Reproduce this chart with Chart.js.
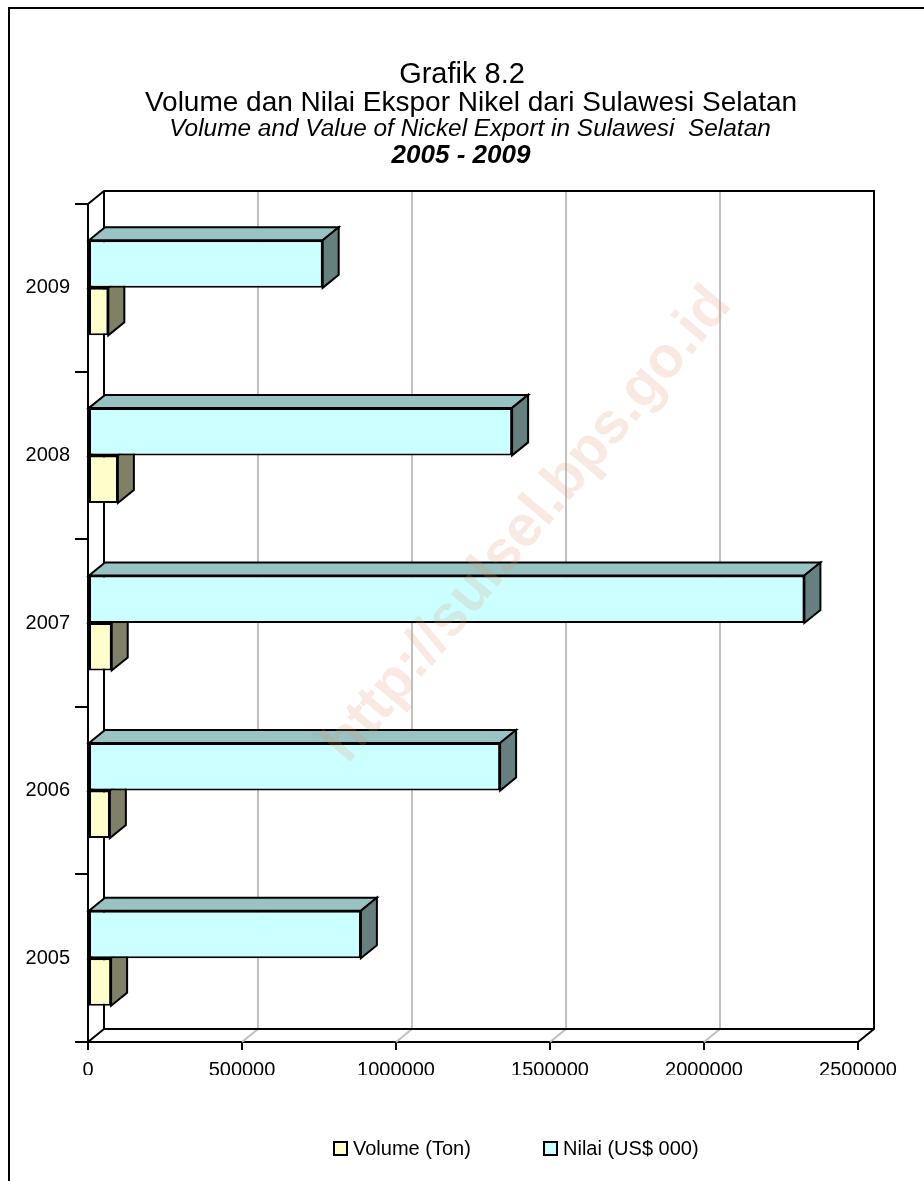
<!DOCTYPE html>
<html><head><meta charset="utf-8">
<script src="https://cdn.jsdelivr.net/npm/chart.js@4"></script>
<style>html,body{margin:0;padding:0;background:#fff;overflow:hidden}#wrap{width:924px;height:1181px;position:relative}</style>
</head><body><div id="wrap"><canvas id="c" width="924" height="1181"></canvas></div>
<script>
// ---- data ----
const years = ['2005', '2006', '2007', '2008', '2009'];
const volumeTon = [75000, 71000, 77000, 97000, 66000];
const nilaiUSD = [886000, 1338000, 2326000, 1377000, 762000];
const xTicks = [0, 500000, 1000000, 1500000, 2000000, 2500000];
const seriesNames = ['Nilai (US$ 000)', 'Volume (Ton)'];
const titleLines = [
  'Grafik 8.2',
  'Volume dan Nilai Ekspor Nikel dari Sulawesi Selatan',
  'Volume and Value of Nickel Export in Sulawesi  Selatan',
  '2005 - 2009'
];
const watermark = 'http://sulsel.bps.go.id';

// ---- style ----
const FONT = "'Liberation Sans', Arial, sans-serif";
const DX = 16, DY = -13;
const colors = {
  nilai: { front: '#CCFFFF', top: '#99C2C2', side: '#668080' },
  volume: { front: '#FFFFCC', top: '#C2C299', side: '#808066' }
};

function face(ctx, pts, fill) {
  ctx.beginPath();
  ctx.moveTo(pts[0][0], pts[0][1]);
  for (let i = 1; i < pts.length; i++) ctx.lineTo(pts[i][0], pts[i][1]);
  ctx.closePath();
  ctx.fillStyle = fill;
  ctx.fill();
  ctx.stroke();
}
function bar3D(ctx, el, c) {
  const xe = el.x, xb = el.base, t = el.y - el.height / 2, b = el.y + el.height / 2;
  face(ctx, [[xb, t], [xb + DX, t + DY], [xe + DX, t + DY], [xe, t]], c.top);
  face(ctx, [[xe, t], [xe + DX, t + DY], [xe + DX, b + DY], [xe, b]], c.side);
}

const threeD = {
  id: 'threeD',
  beforeDatasetsDraw(chart) {
    const { ctx, chartArea: a, scales: { x } } = chart;
    ctx.save();
    ctx.strokeStyle = '#C0C0C0';
    ctx.lineWidth = 2;
    xTicks.forEach((v, i) => {
      if (i === 0 || i === xTicks.length - 1) return;
      const px = x.getPixelForValue(v);
      ctx.beginPath();
      ctx.moveTo(px, a.bottom);
      ctx.lineTo(px + DX, a.bottom + DY);
      ctx.lineTo(px + DX, a.top + DY);
      ctx.stroke();
    });
    ctx.strokeStyle = '#000';
    ctx.lineWidth = 2;
    ctx.lineJoin = 'miter';
    ctx.beginPath();
    ctx.moveTo(a.left, a.top);
    ctx.lineTo(a.left + DX, a.top + DY);
    ctx.lineTo(a.right + DX, a.top + DY);
    ctx.lineTo(a.right + DX, a.bottom + DY);
    ctx.lineTo(a.right, a.bottom);
    ctx.moveTo(a.left + DX, a.top + DY);
    ctx.lineTo(a.left + DX, a.bottom + DY);
    ctx.lineTo(a.right + DX, a.bottom + DY);
    ctx.moveTo(a.left + DX, a.bottom + DY);
    ctx.lineTo(a.left, a.bottom);
    ctx.stroke();
    chart.getDatasetMeta(1).data.forEach(el => bar3D(ctx, el, colors.volume));
    ctx.restore();
  },
  afterDatasetsDraw(chart) {
    const { ctx } = chart;
    ctx.save();
    ctx.strokeStyle = '#000';
    ctx.lineWidth = 2;
    ctx.lineJoin = 'miter';
    chart.getDatasetMeta(0).data.forEach(el => bar3D(ctx, el, colors.nilai));
    // watermark
    ctx.translate(528, 525);
    ctx.rotate(-50 * Math.PI / 180);
    ctx.font = 'bold 58px ' + FONT;
    ctx.textAlign = 'center';
    ctx.textBaseline = 'middle';
    ctx.fillStyle = 'rgba(220,150,110,0.2)';
    ctx.fillText(watermark, 0, 0);
    ctx.restore();
  },
  afterDraw(chart) {
    const { ctx } = chart;
    ctx.save();
    ctx.fillStyle = '#000';
    ctx.textAlign = 'center';
    ctx.textBaseline = 'middle';
    ctx.font = '29px ' + FONT; ctx.fillText(titleLines[0], 462, 75);
    ctx.font = '28px ' + FONT; ctx.fillText(titleLines[1], 471, 103);
    ctx.font = 'italic 24.4px ' + FONT; ctx.fillText(titleLines[2], 470, 129);
    ctx.font = 'italic bold 26px ' + FONT; ctx.fillText(titleLines[3], 461, 156);
    // legend (Volume first, then Nilai)
    const items = [
      { text: seriesNames[1], fill: colors.volume.front, x: 334 },
      { text: seriesNames[0], fill: colors.nilai.front, x: 544 }
    ];
    ctx.textAlign = 'left';
    ctx.font = '20px ' + FONT;
    ctx.lineWidth = 2;
    ctx.strokeStyle = '#000';
    items.forEach(it => {
      ctx.fillStyle = it.fill;
      ctx.fillRect(it.x, 1142, 13, 13);
      ctx.strokeRect(it.x, 1142, 13, 13);
      ctx.fillStyle = '#000';
      ctx.fillText(it.text, it.x + 19, 1149);
    });
    ctx.lineWidth = 2;
    ctx.strokeRect(9, 8, 1000, 1300);
    ctx.restore();
  }
};

new Chart(document.getElementById('c'), {
  type: 'bar',
  data: {
    labels: years,
    datasets: [
      { label: seriesNames[0], data: nilaiUSD, backgroundColor: colors.nilai.front, borderColor: '#000', borderWidth: 2, borderSkipped: false },
      { label: seriesNames[1], data: volumeTon, backgroundColor: colors.volume.front, borderColor: '#000', borderWidth: 2, borderSkipped: false }
    ]
  },
  options: {
    indexAxis: 'y',
    responsive: false,
    animation: false,
    devicePixelRatio: 1,
    categoryPercentage: 0.567,
    barPercentage: 1,
    layout: { padding: { left: 0, right: 66, top: 204, bottom: 106 } },
    plugins: { legend: { display: false }, tooltip: { enabled: false }, title: { display: false } },
    scales: {
      x: {
        min: 0, max: 2500000,
        afterBuildTicks: s => { s.ticks = xTicks.map(v => ({ value: v })); },
        afterFit: s => { s.height = 33; },
        ticks: { color: '#000', font: { family: FONT, size: 20 }, padding: 8, maxRotation: 0, autoSkip: false, callback: v => String(v) },
        grid: { drawOnChartArea: false, tickLength: 8, color: '#000', lineWidth: 2 },
        border: { display: true, color: '#000', width: 2 }
      },
      y: {
        reverse: true,
        afterFit: s => { s.width = 88; },
        ticks: { color: '#000', font: { family: FONT, size: 20 }, padding: 5 },
        grid: { offset: true, drawOnChartArea: false, tickLength: 13, color: '#000', lineWidth: 2 },
        border: { display: true, color: '#000', width: 2 }
      }
    }
  },
  plugins: [threeD]
});
</script>
</body></html>
